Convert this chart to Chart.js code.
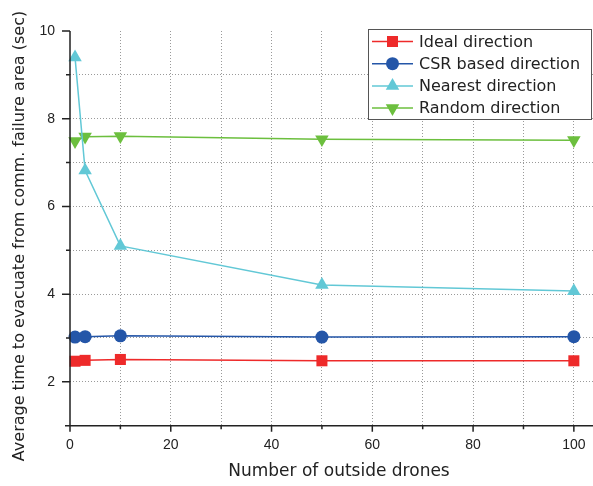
<!DOCTYPE html>
<html>
<head>
<meta charset="utf-8">
<script src="https://cdn.jsdelivr.net/npm/chart.js@4/dist/chart.umd.min.js"></script>
<style>
  html, body { margin: 0; padding: 0; background: #fff; }
  #wrap { width: 593px; height: 486px; }
</style>
</head>
<body>
<div id="wrap"><canvas id="chart" width="593" height="486"></canvas></div>
<script>
// data
const drones = [1, 3, 10, 50, 100]
const idealTime = [2.47, 2.49, 2.51, 2.48, 2.48]
const csrTime = [3.02, 3.03, 3.05, 3.02, 3.03]
const nearestTime = [9.40, 6.82, 5.10, 4.21, 4.07]
const randomTime = [7.49, 7.59, 7.60, 7.53, 7.51]

const seriesNames = ['Ideal direction', 'CSR based direction', 'Nearest direction', 'Random direction']
const xTickLabels = [0, 20, 40, 60, 80, 100]
const yTickLabels = [2, 4, 6, 8, 10]
const xTitle = 'Number of outside drones'
const yTitle = 'Average time to evacuate from comm. failure area (sec)'

const colors = ['#ee2a2a', '#2456a8', '#62c8d6', '#6cbf3e']
const styles = [
    { pointStyle: 'rect', radius: 7.8, rotation: 0 },
    { pointStyle: 'circle', radius: 6.5, rotation: 0 },
    { pointStyle: 'triangle', radius: 7.8, rotation: 0 },
    { pointStyle: 'triangle', radius: 7.8, rotation: 180 }
]
const values = [idealTime, csrTime, nearestTime, randomTime]

const datasets = seriesNames.map((name, i) => ({
    label: name,
    data: drones.map((d, j) => ({ x: d, y: values[i][j] })),
    borderColor: colors[i],
    backgroundColor: colors[i],
    borderWidth: 1.5,
    pointStyle: styles[i].pointStyle,
    pointRadius: styles[i].radius,
    pointRotation: styles[i].rotation,
    pointBorderWidth: 0,
    pointHoverRadius: styles[i].radius,
    tension: 0,
    clip: false
}))

const axisColor = '#222'
const tickFont = { family: '"Liberation Sans", Arial, sans-serif', size: 14 }
const textFont = '"DejaVu Sans", sans-serif'
const gridColor = '#9a9a9a'

// axes, tick marks, axis titles and boxed legend drawn by hand
const framePlugin = {
    id: 'frame',
    afterDraw(chart) {
        const ctx = chart.ctx
        const x = chart.scales.x
        const y = chart.scales.y
        const a = chart.chartArea
        ctx.save()
        ctx.strokeStyle = axisColor
        ctx.lineWidth = 1.5
        ctx.beginPath()
        ctx.moveTo(a.left - 5, a.bottom)
        ctx.lineTo(a.right, a.bottom)
        ctx.moveTo(a.left, a.top)
        ctx.lineTo(a.left, a.bottom)
        x.ticks.forEach(t => {
            const px = x.getPixelForValue(t.value)
            const len = xTickLabels.includes(t.value) ? 6 : 3.5
            ctx.moveTo(px, a.bottom)
            ctx.lineTo(px, a.bottom + len)
        })
        y.ticks.forEach(t => {
            const py = y.getPixelForValue(t.value)
            const len = yTickLabels.includes(t.value) ? 8 : 4
            ctx.moveTo(a.left, py)
            ctx.lineTo(a.left - len, py)
        })
        ctx.stroke()

        // axis titles
        ctx.fillStyle = axisColor
        ctx.textAlign = 'center'
        ctx.textBaseline = 'middle'
        ctx.font = '17px ' + textFont
        ctx.fillText(xTitle, 339, 472)
        ctx.save()
        ctx.translate(20, 236)
        ctx.rotate(-Math.PI / 2)
        ctx.font = '16px ' + textFont
        ctx.fillText(yTitle, 0, 0)
        ctx.restore()

        // legend
        const bx = 368, by = 29, bw = 223, bh = 90
        ctx.fillStyle = '#fff'
        ctx.fillRect(bx, by, bw, bh)
        ctx.strokeStyle = '#555'
        ctx.lineWidth = 1
        ctx.strokeRect(bx + 0.5, by + 0.5, bw, bh)
        ctx.font = '16px ' + textFont
        ctx.textBaseline = 'middle'
        ctx.textAlign = 'left'
        chart.data.datasets.forEach((ds, i) => {
            const ry = 41.5 + i * 22.2
            ctx.strokeStyle = ds.borderColor
            ctx.lineWidth = 1.5
            ctx.beginPath()
            ctx.moveTo(372, ry)
            ctx.lineTo(413, ry)
            ctx.stroke()
            ctx.fillStyle = ds.backgroundColor
            Chart.helpers.drawPoint(ctx, {
                pointStyle: ds.pointStyle,
                radius: ds.pointRadius,
                rotation: ds.pointRotation,
                borderWidth: 0
            }, 392.5, ry)
            ctx.fillStyle = '#222'
            ctx.fillText(ds.label, 419, ry + 1)
        })
        ctx.restore()
    }
}

new Chart(document.getElementById('chart'), {
    type: 'line',
    data: { datasets: datasets },
    plugins: [framePlugin],
    options: {
        responsive: false,
        animation: false,
        devicePixelRatio: 1,
        layout: { autoPadding: false, padding: { top: 31, right: 0, left: 0, bottom: 0 } },
        plugins: {
            legend: { display: false },
            tooltip: { enabled: false }
        },
        scales: {
            x: {
                type: 'linear',
                min: 0,
                max: 103.8,
                afterFit: s => {
                    s.height = 60.3
                    s.paddingLeft = 0
                    s.paddingRight = 0
                },
                border: { display: false, dash: [1, 2] },
                grid: {
                    color: c => c.tick.value === 0 ? 'rgba(0,0,0,0)' : gridColor,
                    lineWidth: 1,
                    drawTicks: false
                },
                ticks: {
                    stepSize: 10,
                    includeBounds: false,
                    maxRotation: 0,
                    autoSkip: false,
                    padding: 11,
                    color: axisColor,
                    font: tickFont,
                    callback: v => xTickLabels.includes(v) ? String(v) : ''
                },
                title: { display: false }
            },
            y: {
                type: 'linear',
                min: 1,
                max: 10,
                afterFit: s => {
                    s.width = 70
                    s.paddingTop = 0
                    s.paddingBottom = 0
                },
                border: { display: false, dash: [1, 2] },
                grid: {
                    color: c => (c.tick.value === 10 || c.tick.value === 1) ? 'rgba(0,0,0,0)' : gridColor,
                    lineWidth: 1,
                    drawTicks: false
                },
                ticks: {
                    stepSize: 1,
                    autoSkip: false,
                    padding: 15,
                    color: axisColor,
                    font: tickFont,
                    callback: v => yTickLabels.includes(v) ? String(v) : ''
                },
                title: { display: false }
            }
        }
    }
})
</script>
</body>
</html>
